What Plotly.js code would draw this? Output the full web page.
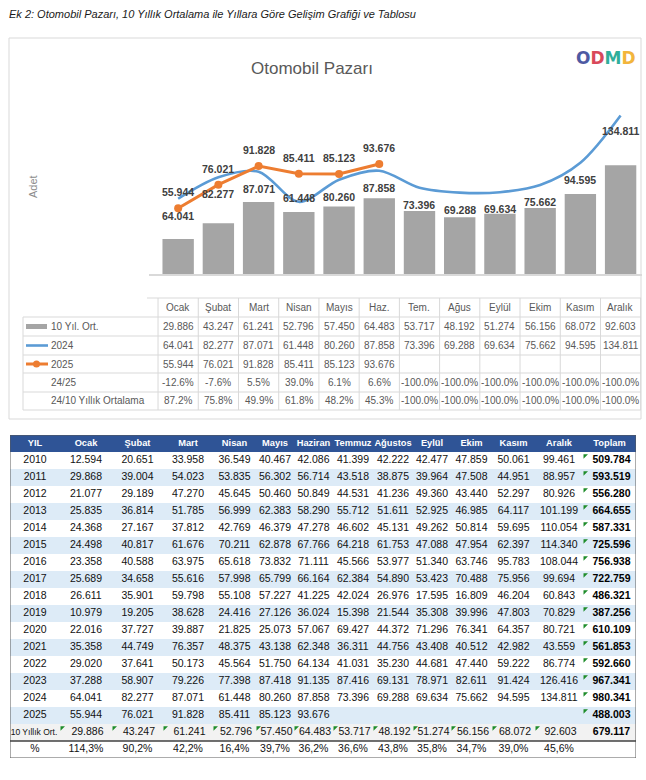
<!DOCTYPE html>
<html><head><meta charset="utf-8">
<script src="https://cdn.plot.ly/plotly-3.0.1.min.js"></script>
<style>html,body{margin:0;padding:0;background:#fff;}#chart{width:646px;height:780px;}</style>
</head><body><div id="chart"></div>
<script>
// ---------- chart data ----------
const months = ['Ocak','Şubat','Mart','Nisan','Mayıs','Haz.','Tem.','Ağus','Eylül','Ekim','Kasım','Aralık'];
const avg10 = [29886, 43247, 61241, 52796, 57450, 64483, 53717, 48192, 51274, 56156, 68072, 92603];
const sales2024 = [64041, 82277, 87071, 61448, 80260, 87858, 73396, 69288, 69634, 75662, 94595, 134811];
const sales2025 = [55944, 76021, 91828, 85411, 85123, 93676];
const ratio2425 = [-12.6, -7.6, 5.5, 39.0, 6.1, 6.6, -100.0, -100.0, -100.0, -100.0, -100.0, -100.0];
const ratio2410 = [87.2, 75.8, 49.9, 61.8, 48.2, 45.3, -100.0, -100.0, -100.0, -100.0, -100.0, -100.0];
const legendNames = ['10 Yıl. Ort.', '2024', '2025', '24/25', '24/10 Yıllık Ortalama'];

// ---------- big table data ----------
const tableHeader = ['YIL','Ocak','Şubat','Mart','Nisan','Mayıs','Haziran','Temmuz','Ağustos','Eylül','Ekim','Kasım','Aralık','Toplam'];
const tableYears = [2010,2011,2012,2013,2014,2015,2016,2017,2018,2019,2020,2021,2022,2023,2024,2025];
const y2010 = [12594, 20651, 33958, 36549, 40467, 42086, 41399, 42222, 42477, 47859, 50061, 99461];
const y2011 = [29868, 39004, 54023, 53835, 56302, 56714, 43518, 38875, 39964, 47508, 44951, 88957];
const y2012 = [21077, 29189, 47270, 45645, 50460, 50849, 44531, 41236, 49360, 43440, 52297, 80926];
const y2013 = [25835, 36814, 51785, 56999, 62383, 58290, 55712, 51611, 52925, 46985, 64117, 101199];
const y2014 = [24368, 27167, 37812, 42769, 46379, 47278, 46602, 45131, 49262, 50814, 59695, 110054];
const y2015 = [24498, 40817, 61676, 70211, 62878, 67766, 64218, 61753, 47088, 47954, 62397, 114340];
const y2016 = [23358, 40588, 63975, 65618, 73832, 71111, 45566, 53977, 51340, 63746, 95783, 108044];
const y2017 = [25689, 34658, 55616, 57998, 65799, 66164, 62384, 54890, 53423, 70488, 75956, 99694];
const y2018 = [26611, 35901, 59798, 55108, 57227, 41225, 42024, 26976, 17595, 16809, 46204, 60843];
const y2019 = [10979, 19205, 38628, 24416, 27126, 36024, 15398, 21544, 35308, 39996, 47803, 70829];
const y2020 = [22016, 37727, 39887, 21825, 25073, 57067, 69427, 44372, 71296, 76341, 64357, 80721];
const y2021 = [35358, 44749, 76357, 48375, 43138, 62348, 36311, 44756, 43408, 40512, 42982, 43559];
const y2022 = [29020, 37641, 50173, 45564, 51750, 64134, 41031, 35230, 44681, 47440, 59222, 86774];
const y2023 = [37288, 58907, 79226, 77398, 87418, 91135, 87416, 69131, 78971, 82611, 91424, 126416];
const y2024 = [64041, 82277, 87071, 61448, 80260, 87858, 73396, 69288, 69634, 75662, 94595, 134811];
const y2025 = [55944, 76021, 91828, 85411, 85123, 93676];
const yearTotals = [509784, 593519, 556280, 664655, 587331, 725596, 756938, 722759, 486321, 387256, 610109, 561853, 592660, 967341, 980341, 488003];
const avgLabel = '10 Yıllık Ort.';
const avgTotal = 679117;
const pctLabel = '%';
const pct2024vsAvg = [114.3, 90.2, 42.2, 16.4, 39.7, 36.2, 36.6, 43.8, 35.8, 34.7, 39.0, 45.6];

// ---------- helpers / styling ----------
const W = 646, H = 780;
const fx = v => v / W;
const fy = v => 1 - v / H;
const thou = n => String(n).replace(/\B(?=(\d{3})+(?!\d))/g, '.');
const pctDot = v => v.toFixed(1) + '%';
const pctComma = v => v.toFixed(1).replace('.', ',') + '%';

const CH_FONT = 'Liberation Sans, Arial, sans-serif';
const TB_FONT = 'Liberation Sans, Arial, sans-serif';
const GRAY_TXT = '#595959';
const GRID = '#D9D9D9';

const traces = [];
const shapes = [];
const annotations = [];

// ---------- chart traces ----------
traces.push({type:'bar', x: months, y: avg10, width: 0.78, marker:{color:'#A5A5A5'}, hoverinfo:'skip', xaxis:'x', yaxis:'y'});
traces.push({type:'scatter', mode:'lines', x: months, y: sales2024, line:{color:'#5B9BD5', width:2.6, shape:'spline', smoothing:0.9}, hoverinfo:'skip', xaxis:'x', yaxis:'y'});
traces.push({type:'scatter', mode:'lines+markers', x: months.slice(0, sales2025.length), y: sales2025, line:{color:'#ED7D31', width:3}, marker:{color:'#ED7D31', size:8}, hoverinfo:'skip', xaxis:'x', yaxis:'y'});

// data labels
const lblFont = {family: CH_FONT, size: 10.5, color: '#404040', weight: 'bold'};
sales2025.forEach((v, i) => annotations.push({xref:'x', yref:'y', x: i, y: v, text: thou(v), showarrow:false, xanchor:'center', yanchor:'middle', yshift: 16, font: lblFont}));
sales2024.forEach((v, i) => annotations.push({xref:'x', yref:'y', x: i, y: v, text: thou(v), showarrow:false, xanchor:'center', yanchor:'middle', yshift: (i === 3 ? 4 : (i === 11 ? -15 : -17)), font: lblFont}));

// ---------- chart frame, titles ----------
shapes.push({type:'rect', xref:'paper', yref:'paper', x0: fx(9), x1: fx(641), y0: fy(419), y1: fy(38), line:{color:'#D9D9D9', width:1}, layer:'below'});
annotations.push({xref:'paper', yref:'paper', x: fx(7), y: fy(14), xanchor:'left', yanchor:'middle', showarrow:false,
  text:'Ek 2: Otomobil Pazarı, 10 Yıllık Ortalama ile Yıllara Göre Gelişim Grafiği ve Tablosu',
  font:{family: CH_FONT, size: 11, color:'#1a1a1a', style:'italic'}});
annotations.push({xref:'paper', yref:'paper', x: fx(33), y: fy(187), textangle:-90, showarrow:false, xanchor:'center', yanchor:'middle',
  text:'Adet', font:{family: CH_FONT, size: 11, color:'#8C8C8C'}});
annotations.push({xref:'paper', yref:'paper', x: fx(606), y: fy(58), showarrow:false, xanchor:'center', yanchor:'middle',
  text:'<span style="color:#4E5AA3">O</span><span style="color:#D9485A">D</span><span style="color:#2FAE9B">M</span><span style="color:#F2B53C">D</span>',
  font:{family: 'DejaVu Sans, sans-serif', size: 17, weight:'bold'}});

// ---------- mini data table under chart ----------
const rowEdges = [298, 317, 336, 355, 373, 392, 410];
const rowMid = k => (rowEdges[k] + rowEdges[k + 1]) / 2;
const tblFont = {family: CH_FONT, size: 10, color: GRAY_TXT};
shapes.push({type:'line', xref:'paper', yref:'paper', x0: fx(147), x1: fx(641), y0: fy(rowEdges[0]), y1: fy(rowEdges[0]), line:{color:GRID, width:1}});
for (let k = 1; k < rowEdges.length; k++) {
  shapes.push({type:'line', xref:'paper', yref:'paper', x0: fx(23), x1: fx(641), y0: fy(rowEdges[k]), y1: fy(rowEdges[k]), line:{color:GRID, width:1}});
}
shapes.push({type:'line', xref:'paper', yref:'paper', x0: fx(23), x1: fx(23), y0: fy(rowEdges[1]), y1: fy(rowEdges[6]), line:{color:GRID, width:1}});
for (let i = 0; i <= months.length; i++) {
  shapes.push({type:'line', xref:'x', yref:'paper', x0: i - 0.5, x1: i - 0.5, y0: fy(rowEdges[0]), y1: fy(rowEdges[6]), line:{color:GRID, width:1}});
}
months.forEach((m, i) => annotations.push({xref:'x', yref:'paper', x: i, y: fy(rowMid(0)), text: m, showarrow:false, xanchor:'center', yanchor:'middle', font: tblFont}));
const miniRows = [avg10.map(thou), sales2024.map(thou), sales2025.map(thou), ratio2425.map(pctDot), ratio2410.map(pctDot)];
miniRows.forEach((row, k) => row.forEach((t, i) => annotations.push({xref:'x', yref:'paper', x: i, y: fy(rowMid(k + 1)), text: t, showarrow:false, xanchor:'center', yanchor:'middle', font: tblFont})));
legendNames.forEach((n, k) => annotations.push({xref:'paper', yref:'paper', x: fx(49), y: fy(rowMid(k + 1)), text: n, showarrow:false, xanchor:'left', yanchor:'middle', font: tblFont}));
shapes.push({type:'rect', xref:'paper', yref:'paper', x0: fx(26), x1: fx(47), y0: fy(rowMid(1) + 2.5), y1: fy(rowMid(1) - 2.5), fillcolor:'#A5A5A5', line:{width:0}});
shapes.push({type:'line', xref:'paper', yref:'paper', x0: fx(26), x1: fx(48), y0: fy(rowMid(2)), y1: fy(rowMid(2)), line:{color:'#5B9BD5', width:2.6}});
shapes.push({type:'line', xref:'paper', yref:'paper', x0: fx(26), x1: fx(48), y0: fy(rowMid(3)), y1: fy(rowMid(3)), line:{color:'#ED7D31', width:3}});
shapes.push({type:'circle', xref:'paper', yref:'paper', x0: fx(33), x1: fx(40), y0: fy(rowMid(3) + 3.5), y1: fy(rowMid(3) - 3.5), fillcolor:'#ED7D31', line:{width:0}});

// ---------- big table (own axes: x2 in px-wide column units, y2 in rows) ----------
const colW = [50, 52, 51, 50, 43, 38, 39, 40, 40, 38, 41, 43, 48, 53];
const colLeft = []; colW.reduce((acc, w) => { colLeft.push(acc); return acc + w; }, 0);
const tableWidth = colW.reduce((a, b) => a + b, 0);
const colCenter = colW.map((w, j) => colLeft[j] + w / 2);
const yearRows = [y2010, y2011, y2012, y2013, y2014, y2015, y2016, y2017, y2018, y2019, y2020, y2021, y2022, y2023, y2024, y2025];
const nRows = 1 + yearRows.length + 2;

for (let r = 0; r < nRows; r++) {
  let fill;
  if (r === 0) fill = '#2F5496';
  else if (r <= yearRows.length) fill = ((r - 1) % 2 === 0) ? '#FFFFFF' : '#DDEBF7';
  else if (r === yearRows.length + 1) fill = '#F2F2F2';
  else fill = '#FFFFFF';
  shapes.push({type:'rect', xref:'x2', yref:'y2', x0: 0, x1: tableWidth, y0: r - 0.5, y1: r + 0.5, fillcolor: fill, line:{width:0}, layer:'below'});
}
shapes.push({type:'rect', xref:'x2', yref:'y2', x0: 0, x1: tableWidth, y0: -0.5, y1: nRows - 0.5, line:{color:'#595959', width:1}});
shapes.push({type:'line', xref:'x2', yref:'y2', x0: 0, x1: tableWidth, y0: nRows - 1.5, y1: nRows - 1.5, line:{color:'#404040', width:1.5}});

traces.push({type:'scatter', mode:'text', xaxis:'x2', yaxis:'y2', x: colCenter, y: tableHeader.map(() => 0), text: tableHeader,
  textfont:{family: TB_FONT, size: 9.3, color:'#FFFFFF', weight:'bold'}, textposition:'middle center', hoverinfo:'skip', cliponaxis:false});

const bx = [], by = [], bt = [], bs = [];
const tx = [], ty = [], tt = [];
const gx = [], gy = [];
yearRows.forEach((row, k) => {
  const r = k + 1;
  bx.push(colCenter[0]); by.push(r); bt.push(String(tableYears[k])); bs.push(10.5);
  row.forEach((v, m) => { bx.push(colCenter[m + 1]); by.push(r); bt.push(thou(v)); bs.push(10.5); });
  tx.push(colCenter[13] + 2); ty.push(r); tt.push(thou(yearTotals[k]));
  gx.push(colLeft[13] + 2); gy.push(r - 0.28);
});
const rAvg = yearRows.length + 1, rPct = yearRows.length + 2;
bx.push(colCenter[0] - 1); by.push(rAvg); bt.push(avgLabel); bs.push(8.5);
avg10.forEach((v, m) => { bx.push(colCenter[m + 1] + 1.5); by.push(rAvg); bt.push(thou(v)); bs.push(10.5); gx.push(colLeft[m + 1] + 2); gy.push(rAvg - 0.28); });
tx.push(colCenter[13] + 2); ty.push(rAvg); tt.push(thou(avgTotal));
bx.push(colCenter[0]); by.push(rPct); bt.push(pctLabel); bs.push(10.5);
pct2024vsAvg.forEach((v, m) => { bx.push(colCenter[m + 1]); by.push(rPct); bt.push(pctComma(v)); bs.push(10.5); });

traces.push({type:'scatter', mode:'text', xaxis:'x2', yaxis:'y2', x: bx, y: by, text: bt,
  textfont:{family: TB_FONT, size: bs, color:'#111111'}, textposition:'middle center', hoverinfo:'skip', cliponaxis:false});
traces.push({type:'scatter', mode:'text', xaxis:'x2', yaxis:'y2', x: tx, y: ty, text: tt,
  textfont:{family: TB_FONT, size: 10.5, color:'#000000', weight:'bold'}, textposition:'middle center', hoverinfo:'skip', cliponaxis:false});
traces.push({type:'scatter', mode:'markers', xaxis:'x2', yaxis:'y2', x: gx, y: gy,
  marker:{symbol:'triangle-nw', size:5, color:'#1E8C2A', line:{width:0}}, hoverinfo:'skip', cliponaxis:false});

// ---------- layout ----------
const tblTop = 435, rowH = 17;
const layout = {
  width: W, height: H, margin:{l:0, r:0, t:0, b:0},
  paper_bgcolor:'#FFFFFF', plot_bgcolor:'rgba(0,0,0,0)',
  showlegend:false, hovermode:false,
  title:{text:'Otomobil Pazarı', x: fx(312), y: fy(68), xanchor:'center', yanchor:'middle', font:{family: CH_FONT, size: 17, color: GRAY_TXT}},
  xaxis:{domain:[fx(148.5), fx(641.6)], type:'category', showticklabels:false, ticks:'', showgrid:false, zeroline:false,
         showline:true, linecolor:'#D9D9D9', linewidth:1.5, fixedrange:true},
  yaxis:{domain:[fy(274), fy(97.75)], range:[0, 150000], showticklabels:false, ticks:'', showgrid:false, zeroline:false, fixedrange:true},
  xaxis2:{domain:[fx(10), fx(10 + tableWidth)], range:[0, tableWidth], anchor:'y2', visible:false, fixedrange:true},
  yaxis2:{domain:[fy(tblTop + nRows * rowH), fy(tblTop)], range:[nRows - 0.5, -0.5], anchor:'x2', visible:false, fixedrange:true},
  shapes: shapes,
  annotations: annotations
};

Plotly.newPlot('chart', traces, layout, {staticPlot:true, displayModeBar:false});
</script>
</body></html>
